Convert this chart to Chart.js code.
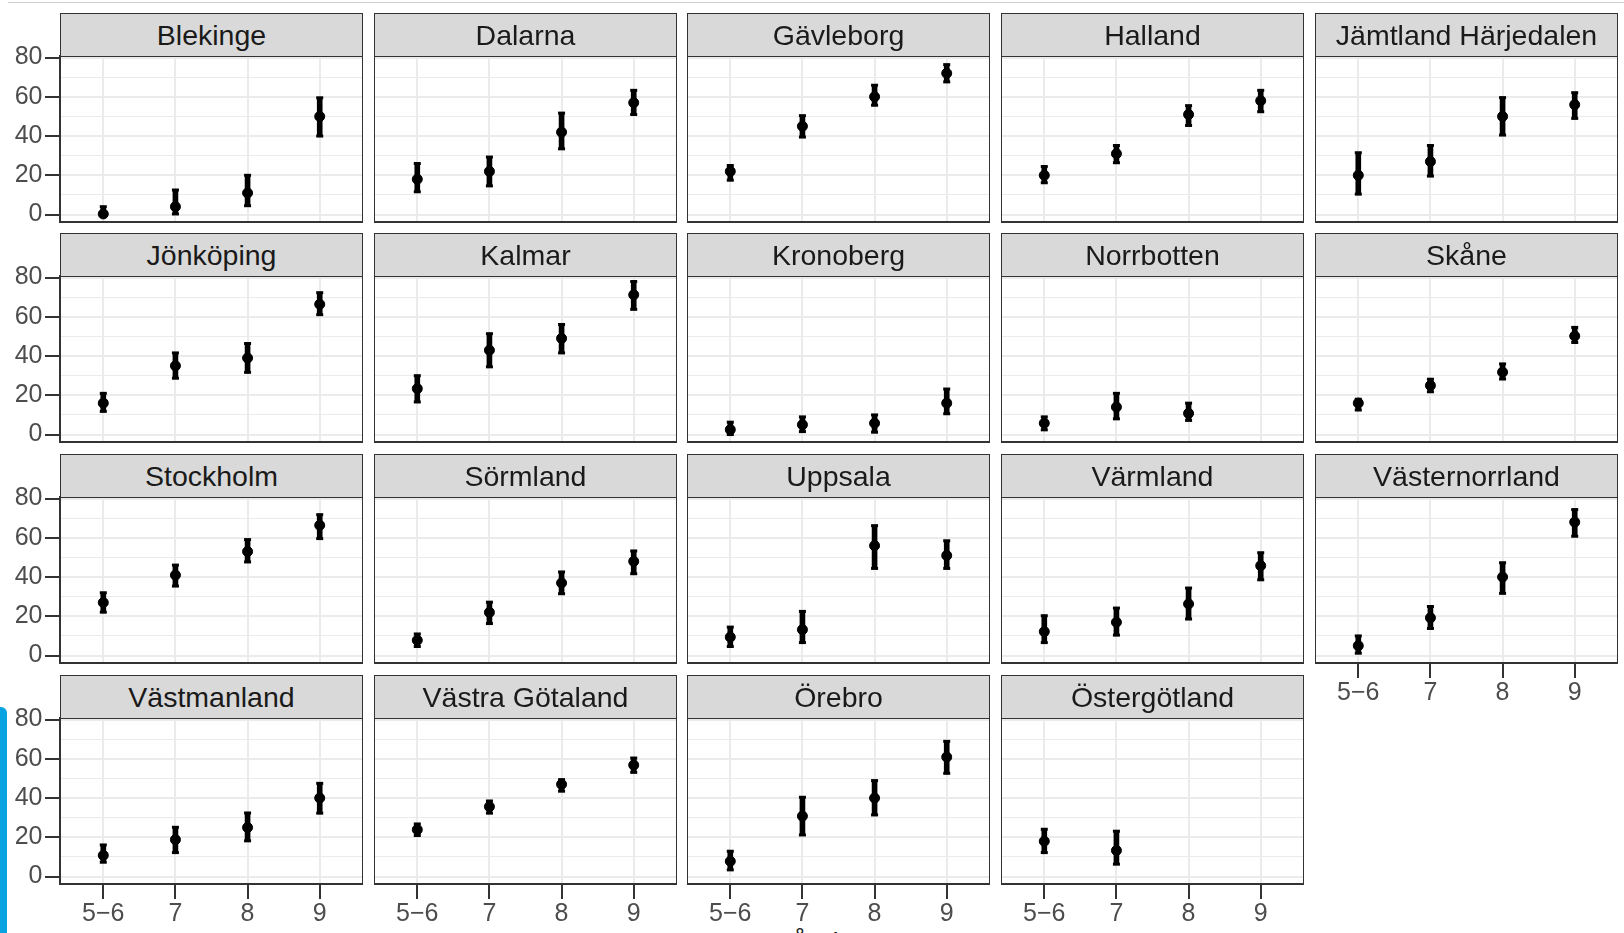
<!DOCTYPE html>
<html>
<head>
<meta charset="utf-8">
<script src="https://cdn.jsdelivr.net/npm/chart.js@4.4.1/dist/chart.umd.min.js"></script>
<style>
  html, body { margin: 0; padding: 0; background: #fff; width: 1624px; height: 933px; overflow: hidden; position: relative; font-family: 'Liberation Sans', Arial, sans-serif; }
  canvas { position: absolute; z-index: 1; }
  .strip { position: absolute; z-index: 2; box-sizing: border-box; background: #D9D9D9; border: 1.5px solid #333; border-bottom: none;
           color: #1A1A1A; font-size: 28.5px; text-align: center; white-space: nowrap; }
  #topline { position: absolute; left: 8px; right: 0; top: 2px; height: 1px; background: #CFCFCF; }
  #bluebar { position: absolute; left: 0; top: 707px; width: 7px; height: 226px; background: #0AA3E2; border-top-right-radius: 6px; }
  #xtitle { position: absolute; top: 929px; left: 838px; transform: translateX(-50%); font-size: 28px; line-height: 28px; color: #1A1A1A; white-space: nowrap; }
</style>
</head>
<body>
<div id="topline"></div>
<div id="bluebar"></div>
<div id="xtitle">Årskurs</div>
<script>
// ---- data ----
const grades = ['5\u22126', '7', '8', '9'];
const regions = ['Blekinge', 'Dalarna', 'Gävleborg', 'Halland', 'Jämtland Härjedalen',
                 'Jönköping', 'Kalmar', 'Kronoberg', 'Norrbotten', 'Skåne',
                 'Stockholm', 'Sörmland', 'Uppsala', 'Värmland', 'Västernorrland',
                 'Västmanland', 'Västra Götaland', 'Örebro', 'Östergötland'];
const yTicks = [0, 10, 20, 30, 40, 50, 60, 70, 80];
const pointValues = [
  [0.3, 4, 11, 50],
  [18, 22, 42, 57],
  [22, 45, 60, 72],
  [20, 31, 51, 58],
  [20, 27, 50, 56],
  [16, 35, 39, 66.4],
  [23.4, 43, 49, 71.2],
  [2.5, 5, 5.8, 16],
  [5.8, 14, 10.8, null],
  [16, 25, 31.8, 50.2],
  [27, 41, 53, 66.4],
  [7.8, 22, 37, 48],
  [9.4, 13.2, 56, 51],
  [12.2, 17, 26.3, 45.8],
  [5, 19.2, 40, 68],
  [10.8, 18.8, 25, 40],
  [23.9, 35.6, 47, 56.8],
  [7.8, 30.8, 40, 60.9],
  [18, 13.3, null, null]
];
const lowerValues = [
  [0, 0.3, 4.5, 40],
  [11.6, 14.6, 33.5, 51],
  [17.5, 39.5, 55.7, 67.6],
  [16.2, 26.4, 45.4, 52.4],
  [10.4, 19.6, 40.5, 49],
  [11.8, 28.7, 31.7, 61.1],
  [16.6, 34.5, 41.6, 63.8],
  [0, 1.5, 1.2, 10.6],
  [2.4, 8, 7.2, null],
  [12.5, 21.8, 28.3, 46.9],
  [22.1, 35.4, 47.7, 59.6],
  [4.6, 16.3, 31.5, 41.7],
  [4.6, 6.6, 44.4, 44.4],
  [6.6, 10.4, 18.6, 38.6],
  [1.2, 13.8, 31.7, 60.8],
  [7.3, 12.2, 18.2, 32.3],
  [20.9, 32.3, 43.5, 53.1],
  [3.4, 21.2, 31.4, 52.6],
  [12.2, 6.3, null, null]
];
const upperValues = [
  [4, 12.5, 20, 59.5],
  [26, 29.3, 51.7, 63.3],
  [25, 50.4, 65.9, 76.4],
  [24.5, 35.2, 55.5, 63.3],
  [31.5, 35.2, 59.6, 62.1],
  [21, 41.6, 46.4, 72.3],
  [30, 51.4, 56.1, 78],
  [6.3, 9, 10, 23.2],
  [9, 21, 16, null],
  [18, 28.2, 36, 54.6],
  [32, 46.1, 59.1, 71.8],
  [11, 27.2, 42.6, 53.3],
  [14.5, 22.5, 66.2, 58.5],
  [20.3, 24.2, 34.4, 52.4],
  [10, 25, 47.3, 74.4],
  [16.1, 25.1, 32.4, 47.5],
  [26.8, 38.5, 49.4, 60.4],
  [12.9, 40.4, 48.9, 68.9],
  [24.1, 23.1, null, null]
];

// ---- layout ----
const NCOL = 5, NROW = 4;
const PANEL_W = 303, PANEL_H = 166, STRIP_H = 43, XAXIS_H = 50, EXTRA_B = 8;
const COL_X0 = 59.8, COL_PITCH = 313.7, ROW_Y0 = 55.7, ROW_PITCH = 220.6;
const Y_MIN = -3.8, Y_MAX = 80.8, X_MIN = 0.4, X_MAX = 4.6;

Chart.defaults.font.family = "'Liberation Sans', Arial, sans-serif";
Chart.defaults.animation = false;

const borderPlugin = {
  id: 'panelBorder',
  afterDatasetsDraw(chart) {
    const a = chart.chartArea, ctx = chart.ctx;
    ctx.save();
    ctx.strokeStyle = '#333';
    ctx.lineWidth = 2;
    ctx.strokeRect(a.left, a.top, a.right - a.left, a.bottom - a.top);
    ctx.restore();
  }
};

regions.forEach((name, i) => {
  const row = Math.floor(i / NCOL), col = i % NCOL;
  const PL = Math.round(COL_X0 + col * COL_PITCH);
  const PT = Math.round(ROW_Y0 + row * ROW_PITCH);
  const showY = col === 0;
  const showX = row === NROW - 1 || (row === NROW - 2 && col === NCOL - 1);

  // strip
  const strip = document.createElement('div');
  strip.className = 'strip';
  strip.style.left = PL + 'px';
  strip.style.top = (PT - STRIP_H) + 'px';
  strip.style.width = PANEL_W + 'px';
  strip.style.height = STRIP_H + 'px';
  strip.style.lineHeight = (STRIP_H - 1) + 'px';
  strip.textContent = name;
  document.body.appendChild(strip);

  // canvas
  const cv = document.createElement('canvas');
  const left = showY ? 0 : PL;
  const w = showY ? PL + PANEL_W : PANEL_W;
  const h = STRIP_H + PANEL_H + (showX ? XAXIS_H : EXTRA_B);
  cv.width = w; cv.height = h;
  cv.style.left = left + 'px';
  cv.style.top = (PT - STRIP_H) + 'px';
  cv.style.width = w + 'px'; cv.style.height = h + 'px';
  document.body.appendChild(cv);

  const mids = pointValues[i], los = lowerValues[i], his = upperValues[i];
  const idx = grades.map((g, j) => j).filter(j => mids[j] !== null);
  const barData = idx.map(j => ({ x: j + 1, y: [los[j], his[j]] }));
  const ptData = idx.map(j => ({ x: j + 1, y: mids[j] }));
  const capData = idx.flatMap(j => [{ x: j + 1, y: los[j] }, { x: j + 1, y: his[j] }]);

  new Chart(cv, {
    type: 'bar',
    data: {
      datasets: [
        { type: 'scatter', data: ptData, order: 0, pointRadius: 5, pointHoverRadius: 5,
          backgroundColor: '#000', borderColor: '#000', borderWidth: 1, showLine: false },
        { type: 'scatter', data: capData, order: 1, pointStyle: 'line', pointRadius: 3.5, pointHoverRadius: 3.5,
          borderColor: '#000', borderWidth: 3, showLine: false },
        { type: 'bar', data: barData, order: 2, barThickness: 5, backgroundColor: '#000', borderWidth: 0 }
      ]
    },
    options: {
      responsive: false,
      devicePixelRatio: 1,
      events: [],
      layout: { autoPadding: false, padding: { top: STRIP_H, bottom: showX ? 0 : EXTRA_B, left: 0, right: 0 } },
      plugins: { legend: { display: false }, tooltip: { enabled: false }, title: { display: false } },
      scales: {
        x: {
          type: 'linear', min: X_MIN, max: X_MAX, offset: false,
          afterBuildTicks: s => { s.ticks = grades.map((g, j) => ({ value: j + 1 })); },
          afterFit: s => { s.height = showX ? XAXIS_H : 0; s.paddingLeft = 0; s.paddingRight = 0; },
          border: { display: false },
          grid: { offset: false, color: '#EBEBEB', lineWidth: 2, drawTicks: showX, tickLength: 15, tickColor: '#333', tickWidth: 2 },
          ticks: { display: showX, autoSkip: false, maxRotation: 0, padding: 0, color: '#4D4D4D',
                   font: { size: 25 }, callback: v => grades[Math.round(v) - 1] }
        },
        y: {
          type: 'linear', min: Y_MIN, max: Y_MAX,
          afterBuildTicks: s => { s.ticks = yTicks.map(v => ({ value: v })); },
          afterFit: s => { s.width = showY ? PL : 0; s.paddingTop = 0; s.paddingBottom = 0; },
          border: { display: false },
          grid: {
            color: '#EBEBEB',
            lineWidth: c => (c.tick && c.tick.value % 20 === 0) ? 2 : 1,
            drawTicks: showY, tickLength: 15,
            tickColor: c => (c.tick && c.tick.value % 20 === 0) ? '#333' : 'rgba(0,0,0,0)',
            tickWidth: 2
          },
          ticks: { display: showY, autoSkip: false, padding: 2.5, color: '#4D4D4D',
                   font: { size: 25 }, callback: v => (v % 20 === 0 ? String(v) : '') }
        }
      }
    },
    plugins: [borderPlugin]
  });
});
</script>
</body>
</html>
